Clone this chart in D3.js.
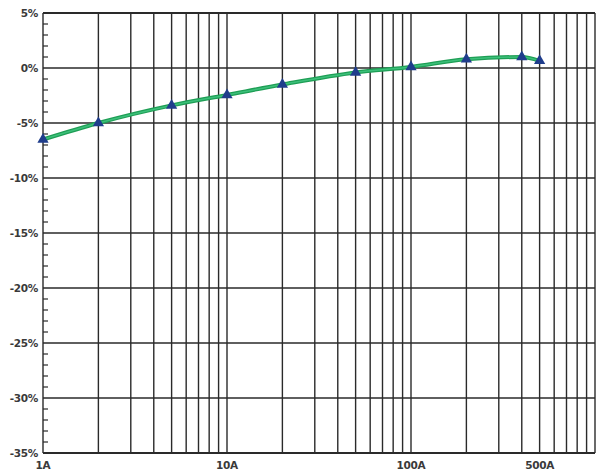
<!DOCTYPE html>
<html>
<head>
<meta charset="utf-8">
<script src="https://cdn.jsdelivr.net/npm/d3@7"></script>
<style>
    body { margin: 0; background: #fff; }
    #chart { width: 598px; height: 470px; }
    .lbl { font-family: "DejaVu Sans", Arial, sans-serif; font-weight: bold; font-size: 10.5px; fill: #3a3a3a; letter-spacing: -0.3px; }
</style>
</head>
<body>
<div id="chart"></div>
<script>
// data
const current = [1, 2, 5, 10, 20, 50, 100, 200, 400, 500];
const errorPct = [-6.5, -5.0, -3.4, -2.45, -1.5, -0.4, 0.1, 0.8, 1.0, 0.65];
const yTicks = [5, 0, -5, -10, -15, -20, -25, -30, -35];
const xLabels = [1, 10, 100, 500];

const width = 598, height = 470;
const margin = { top: 13, left: 43, right: 3, bottom: 17 };

const svg = d3.select("#chart")
    .append("svg")
    .attr("width", width)
    .attr("height", height);

const xScale = d3.scaleLog()
    .domain([1, 1000])
    .range([margin.left, width - margin.right]);

const yScale = d3.scaleLinear()
    .domain([-35, 5])
    .range([height - margin.bottom, margin.top]);

// vertical grid, 1..9 in every decade
let xGrid = [];
for (let p = 1; p <= 100; p *= 10) {
    for (let k = 1; k <= 9; k++) xGrid.push(k * p);
}
xGrid.push(1000);

svg.append("g")
    .selectAll("line")
    .data(xGrid)
    .enter()
    .append("line")
    .attr("x1", d => xScale(d))
    .attr("x2", d => xScale(d))
    .attr("y1", yScale(5))
    .attr("y2", yScale(-35))
    .attr("stroke", "#2a2a2a")
    .attr("stroke-width", 1.4);

// horizontal grid
svg.append("g")
    .selectAll("line")
    .data(yTicks)
    .enter()
    .append("line")
    .attr("x1", xScale(1))
    .attr("x2", xScale(1000))
    .attr("y1", d => yScale(d))
    .attr("y2", d => yScale(d))
    .attr("stroke", "#2a2a2a")
    .attr("stroke-width", d => (d == 5 || d == -35) ? 2.2 : 1.4);

// minor ticks on left axis every 1%
const minor = d3.range(-35, 6, 1).filter(d => d % 5 != 0);
svg.append("g")
    .selectAll("line")
    .data(minor)
    .enter()
    .append("line")
    .attr("x1", xScale(1))
    .attr("x2", xScale(1) + 5)
    .attr("y1", d => yScale(d))
    .attr("y2", d => yScale(d))
    .attr("stroke", "#2a2a2a")
    .attr("stroke-width", 1.2);

// y labels
svg.append("g")
    .selectAll("text")
    .data(yTicks)
    .enter()
    .append("text")
    .attr("class", "lbl")
    .attr("x", margin.left - 5)
    .attr("y", d => yScale(d) + 4)
    .attr("text-anchor", "end")
    .text(d => d + "%");

// x labels
svg.append("g")
    .selectAll("text")
    .data(xLabels)
    .enter()
    .append("text")
    .attr("class", "lbl")
    .attr("x", d => xScale(d))
    .attr("y", height - 1)
    .attr("text-anchor", "middle")
    .text(d => d + "A");

// curve
const line = d3.line()
    .x((d, i) => xScale(current[i]))
    .y(d => yScale(d))
    .curve(d3.curveMonotoneX);

svg.append("path")
    .datum(errorPct)
    .attr("d", line)
    .attr("fill", "none")
    .attr("stroke", "#1e9e55")
    .attr("stroke-width", 4);

svg.append("path")
    .datum(errorPct)
    .attr("d", line)
    .attr("fill", "none")
    .attr("stroke", "#3cc07a")
    .attr("stroke-width", 1.5);

// triangle markers
svg.append("g")
    .selectAll("path")
    .data(errorPct)
    .enter()
    .append("path")
    .attr("d", d3.symbol().type(d3.symbolTriangle).size(55))
    .attr("transform", (d, i) => `translate(${xScale(current[i])},${yScale(d)})`)
    .attr("fill", "#1f3d8c");
</script>
</body>
</html>
